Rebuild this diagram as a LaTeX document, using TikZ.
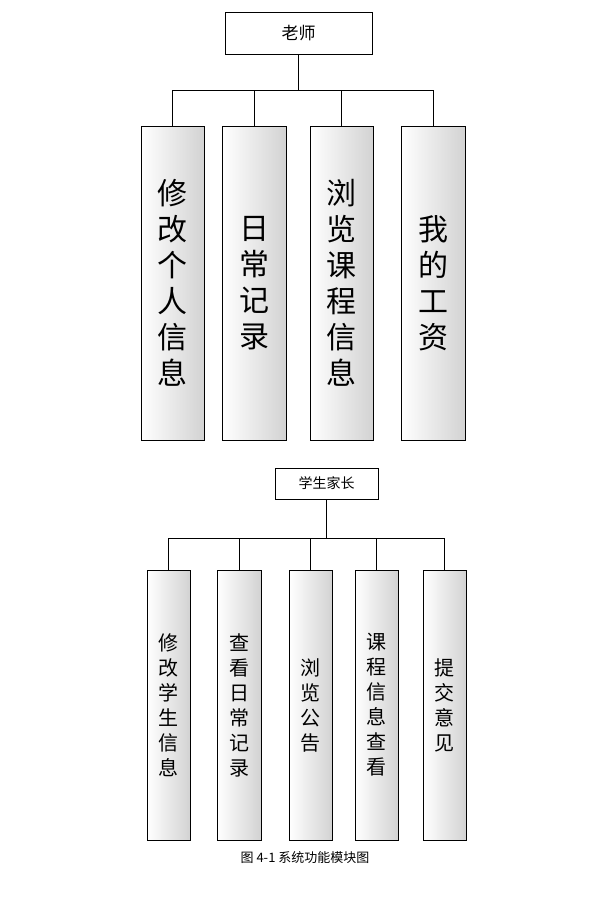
\documentclass[tikz,border=0pt]{standalone}
\usepackage{fontspec}
\setmainfont{Noto Sans CJK SC}
\usetikzlibrary{positioning}
\tikzset{
  head/.style={draw=black, fill=white, minimum width=#1, inner sep=0pt},
  mod/.style={draw=black, left color=white, right color=gray!35, inner sep=0pt, align=center},
}
\begin{document}
\begin{tikzpicture}[x=1pt, y=-1pt]
  \useasboundingbox (0,0) rectangle (609,899);
  % teacher
  \node (t) [head=147pt, minimum height=42pt, font=\fontsize{17}{17}\selectfont] at (298.5,33) {老师};
  \coordinate (tj) at (298.5,90);
  \node (t1) [mod, minimum width=63pt, minimum height=314pt, font=\fontsize{30}{36}\selectfont] at (172.5,283) {修\\改\\个\\人\\信\\息};
  \node (t2) [mod, minimum width=64pt, minimum height=314pt, font=\fontsize{30}{36}\selectfont] at (254,283) {日\\常\\记\\录};
  \node (t3) [mod, minimum width=63pt, minimum height=314pt, font=\fontsize{30}{36}\selectfont] at (341.5,283) {浏\\览\\课\\程\\信\\息};
  \node (t4) [mod, minimum width=64pt, minimum height=314pt, font=\fontsize{30}{36}\selectfont] at (433,283) {我\\的\\工\\资};
  \draw (t) -- (tj);
  \draw (tj) -| (t1.north);
  \draw (tj) -| (t2.north);
  \draw (tj) -| (t3.north);
  \draw (tj) -| (t4.north);
  % parent
  \node (p) [head=103pt, minimum height=31pt, font=\fontsize{14}{14}\selectfont] at (326.5,483.5) {学生家长};
  \coordinate (pj) at (326.5,538);
  \node (p1) [mod, minimum width=43pt, minimum height=270pt, font=\fontsize{20}{25}\selectfont] at (168.5,705) {修\\改\\学\\生\\信\\息};
  \node (p2) [mod, minimum width=44pt, minimum height=270pt, font=\fontsize{20}{25}\selectfont] at (239,705) {查\\看\\日\\常\\记\\录};
  \node (p3) [mod, minimum width=43pt, minimum height=270pt, font=\fontsize{20}{25}\selectfont] at (310.5,705) {浏\\览\\公\\告};
  \node (p4) [mod, minimum width=43pt, minimum height=270pt, font=\fontsize{20}{25}\selectfont] at (376.5,705) {课\\程\\信\\息\\查\\看};
  \node (p5) [mod, minimum width=43pt, minimum height=270pt, font=\fontsize{20}{25}\selectfont] at (444.5,705) {提\\交\\意\\见};
  \draw (p) -- (pj);
  \draw (pj) -| (p1.north);
  \draw (pj) -| (p2.north);
  \draw (pj) -| (p3.north);
  \draw (pj) -| (p4.north);
  \draw (pj) -| (p5.north);
  % caption
  \node (cap) [font=\fontsize{13}{13}\selectfont] at (305,858) {图 4-1 系统功能模块图};
\end{tikzpicture}
\end{document}
